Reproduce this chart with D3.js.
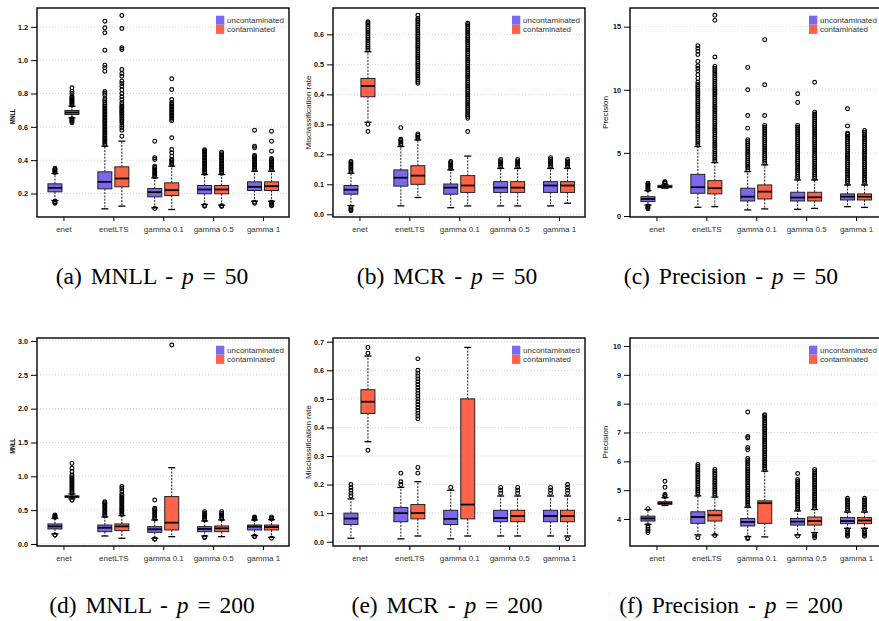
<!DOCTYPE html>
<html>
<head>
<meta charset="utf-8">
<script src="https://cdn.jsdelivr.net/npm/d3@7"></script>
<style>
  body { margin: 0; background: #fff; }
  svg { display: block; }
</style>
</head>
<body>
<svg id="fig" width="879" height="621"></svg>
<script>
// ---------------------------------------------------------------
// Methods compared and the two data settings
// ---------------------------------------------------------------
const methods = ["enet", "enetLTS", "gamma 0.1", "gamma 0.5", "gamma 1"];
const groupNames = ["uncontaminated", "contaminated"];
const groupColors = ["#7B68EE", "#FF6347"];

// Box summaries per method: [lower whisker, Q1, median, Q3, upper whisker]
// Outliers per method: individual points beyond the whiskers.

// ---- MNLL, p = 50 ----
const mnllTicks50 = [0.2, 0.4, 0.6, 0.8, 1.0, 1.2];
const mnll50CleanStats = [
  [0.158, 0.210, 0.234, 0.258, 0.320],
  [0.108, 0.228, 0.270, 0.330, 0.484],
  [0.114, 0.180, 0.208, 0.230, 0.294],
  [0.134, 0.198, 0.224, 0.248, 0.314],
  [0.154, 0.218, 0.240, 0.270, 0.334]
];
const mnll50CleanOut = [
  [0.326, 0.331, 0.337, 0.342, 0.347, 0.352, 0.153, 0.149, 0.145, 0.141],
  [0.492, 0.501, 0.509, 0.518, 0.527, 0.535, 0.544, 0.553, 0.561, 0.570, 0.579, 0.588, 0.597, 0.606,
   0.615, 0.624, 0.633, 0.642, 0.651, 0.660, 0.669, 0.678, 0.687, 0.696, 0.705, 0.714, 0.723, 0.733,
   0.744, 0.756, 0.768, 0.790, 0.801, 0.812, 0.934, 0.954, 0.970, 1.060, 1.164, 1.194, 1.234],
  [0.301, 0.309, 0.317, 0.325, 0.333, 0.341, 0.349, 0.357, 0.364, 0.404, 0.414, 0.514, 0.110],
  [0.322, 0.330, 0.339, 0.348, 0.357, 0.366, 0.375, 0.384, 0.393, 0.402, 0.411, 0.420, 0.429, 0.438,
   0.447, 0.455, 0.462, 0.128, 0.123],
  [0.342, 0.351, 0.360, 0.369, 0.378, 0.387, 0.396, 0.405, 0.414, 0.422, 0.428, 0.474, 0.484, 0.580,
   0.148, 0.142]
];
const mnll50ContStats = [
  [0.654, 0.674, 0.686, 0.698, 0.724],
  [0.124, 0.240, 0.290, 0.360, 0.514],
  [0.104, 0.188, 0.220, 0.264, 0.364],
  [0.130, 0.198, 0.224, 0.248, 0.314],
  [0.154, 0.218, 0.244, 0.270, 0.334]
];
const mnll50ContOut = [
  [0.730, 0.736, 0.742, 0.748, 0.754, 0.760, 0.766, 0.772, 0.778, 0.784, 0.800, 0.814, 0.834,
   0.648, 0.642, 0.636, 0.630, 0.625],
  [0.544, 0.580, 0.594, 0.610, 0.624, 0.636, 0.646, 0.656, 0.666, 0.676, 0.684, 0.692, 0.700, 0.708,
   0.716, 0.724, 0.733, 0.744, 0.764, 0.780, 0.800, 0.822, 0.844, 0.860, 0.874, 0.904, 0.920, 0.944,
   1.064, 1.074, 1.190, 1.268],
  [0.372, 0.380, 0.388, 0.396, 0.404, 0.424, 0.444, 0.464, 0.534, 0.636, 0.645, 0.654, 0.663, 0.672,
   0.681, 0.690, 0.699, 0.708, 0.717, 0.726, 0.735, 0.744, 0.764, 0.824, 0.888],
  [0.322, 0.330, 0.339, 0.348, 0.357, 0.366, 0.375, 0.384, 0.393, 0.402, 0.411, 0.420, 0.429, 0.438,
   0.448, 0.126, 0.122],
  [0.342, 0.351, 0.360, 0.369, 0.378, 0.387, 0.396, 0.404, 0.410, 0.454, 0.514, 0.574,
   0.148, 0.140, 0.132, 0.126]
];

// ---- Misclassification rate, p = 50 ----
const mcrTicks50 = [0.0, 0.1, 0.2, 0.3, 0.4, 0.5, 0.6];
const mcr50CleanStats = [
  [0.029, 0.067, 0.082, 0.096, 0.137],
  [0.028, 0.094, 0.122, 0.148, 0.226],
  [0.022, 0.067, 0.089, 0.101, 0.148],
  [0.028, 0.073, 0.089, 0.109, 0.153],
  [0.028, 0.073, 0.096, 0.109, 0.153]
];
const mcr50CleanOut = [
  [0.142, 0.147, 0.152, 0.157, 0.162, 0.167, 0.172, 0.176, 0.024, 0.019, 0.015, 0.012],
  [0.231, 0.236, 0.241, 0.246, 0.250, 0.289],
  [0.153, 0.158, 0.163, 0.168, 0.172, 0.176],
  [0.158, 0.163, 0.168, 0.173, 0.178, 0.183],
  [0.158, 0.163, 0.168, 0.173, 0.178, 0.183, 0.189]
];
const mcr50ContStats = [
  [0.307, 0.392, 0.428, 0.453, 0.542],
  [0.056, 0.100, 0.129, 0.162, 0.248],
  [0.028, 0.073, 0.096, 0.129, 0.194],
  [0.028, 0.073, 0.089, 0.109, 0.153],
  [0.037, 0.073, 0.096, 0.109, 0.153]
];
const mcr50ContOut = [
  [0.548, 0.554, 0.560, 0.566, 0.572, 0.578, 0.584, 0.590, 0.596, 0.602, 0.608, 0.614, 0.620, 0.626,
   0.632, 0.638, 0.642, 0.300, 0.276],
  [0.253, 0.258, 0.263, 0.268, 0.437, 0.443, 0.449, 0.455, 0.461, 0.467, 0.473, 0.479, 0.485, 0.491,
   0.497, 0.503, 0.509, 0.515, 0.521, 0.527, 0.533, 0.539, 0.545, 0.551, 0.557, 0.563, 0.569, 0.575,
   0.581, 0.587, 0.593, 0.599, 0.605, 0.611, 0.617, 0.623, 0.629, 0.635, 0.641, 0.647, 0.653, 0.664],
  [0.276, 0.320, 0.326, 0.332, 0.338, 0.344, 0.350, 0.356, 0.362, 0.368, 0.374, 0.380, 0.386, 0.392,
   0.398, 0.404, 0.410, 0.416, 0.422, 0.428, 0.434, 0.440, 0.446, 0.452, 0.458, 0.464, 0.470, 0.476,
   0.482, 0.488, 0.494, 0.500, 0.506, 0.512, 0.518, 0.524, 0.530, 0.536, 0.542, 0.548, 0.554, 0.560,
   0.566, 0.572, 0.578, 0.584, 0.590, 0.596, 0.602, 0.608, 0.614, 0.620, 0.626, 0.632, 0.637],
  [0.158, 0.163, 0.168, 0.173, 0.178, 0.183],
  [0.158, 0.163, 0.168, 0.173, 0.178, 0.183]
];

// ---- Precision, p = 50 ----
const precTicks50 = [0, 5, 10, 15];
const prec50CleanStats = [
  [0.87, 1.14, 1.35, 1.53, 2.00],
  [0.69, 1.80, 2.28, 3.30, 5.50],
  [0.48, 1.19, 1.53, 2.20, 3.52],
  [0.53, 1.19, 1.46, 1.88, 2.86],
  [0.74, 1.27, 1.53, 1.75, 2.46]
];
const prec50CleanOut = [
  [2.08, 2.17, 2.26, 2.35, 2.44, 2.53, 2.60, 0.80, 0.72, 0.64, 0.57],
  [5.62, 5.77, 5.92, 6.07, 6.22, 6.37, 6.52, 6.67, 6.82, 6.97, 7.12, 7.27, 7.42, 7.57, 7.72, 7.87,
   8.02, 8.17, 8.32, 8.47, 8.62, 8.77, 8.92, 9.07, 9.22, 9.37, 9.52, 9.67, 9.82, 9.97, 10.12, 10.27,
   10.42, 10.6, 10.9, 11.2, 11.5, 11.7, 11.9, 12.25, 12.8, 13.05, 13.3, 13.5],
  [3.65, 3.80, 3.95, 4.10, 4.25, 4.40, 4.55, 4.70, 4.85, 5.00, 5.15, 5.30, 5.45, 5.60, 5.75, 5.90,
   6.05, 6.96, 7.96, 10.0, 11.77],
  [2.98, 3.13, 3.28, 3.43, 3.58, 3.73, 3.88, 4.03, 4.18, 4.33, 4.48, 4.63, 4.78, 4.93, 5.08, 5.23,
   5.38, 5.53, 5.68, 5.83, 5.98, 6.13, 6.28, 6.43, 6.58, 6.73, 6.88, 7.03, 7.18, 9.00, 9.68],
  [2.58, 2.73, 2.88, 3.03, 3.18, 3.33, 3.48, 3.63, 3.78, 3.93, 4.08, 4.23, 4.38, 4.53, 4.68, 4.83,
   4.98, 5.13, 5.28, 5.43, 5.58, 5.73, 5.88, 6.03, 6.18, 6.33, 6.48, 6.56, 7.14, 8.49]
];
const prec50ContStats = [
  [2.20, 2.25, 2.33, 2.43, 2.50],
  [0.74, 1.75, 2.20, 2.80, 4.23],
  [0.56, 1.35, 1.93, 2.46, 4.05],
  [0.60, 1.19, 1.48, 1.88, 2.86],
  [0.68, 1.27, 1.53, 1.75, 2.46]
];
const prec50ContOut = [
  [2.56, 2.62, 2.68, 2.72],
  [4.35, 4.50, 4.65, 4.80, 4.95, 5.10, 5.25, 5.40, 5.55, 5.70, 5.85, 6.00, 6.15, 6.30, 6.45, 6.60,
   6.75, 6.90, 7.05, 7.20, 7.35, 7.50, 7.65, 7.80, 7.95, 8.10, 8.25, 8.40, 8.55, 8.70, 8.85, 9.00,
   9.15, 9.30, 9.45, 9.60, 9.75, 9.90, 10.05, 10.20, 10.35, 10.50, 10.65, 10.80, 10.95, 11.10,
   11.25, 11.40, 11.55, 11.70, 11.85, 12.6, 15.5, 15.9],
  [4.18, 4.33, 4.48, 4.63, 4.78, 4.93, 5.08, 5.23, 5.38, 5.53, 5.68, 5.83, 5.98, 6.13, 6.28, 6.43,
   6.58, 6.73, 6.88, 7.03, 7.18, 7.96, 10.4, 13.97],
  [2.98, 3.13, 3.28, 3.43, 3.58, 3.73, 3.88, 4.03, 4.18, 4.33, 4.48, 4.63, 4.78, 4.93, 5.08, 5.23,
   5.38, 5.53, 5.68, 5.83, 5.98, 6.13, 6.28, 6.43, 6.58, 6.73, 6.88, 7.03, 7.18, 7.33, 7.48, 7.63,
   7.78, 7.93, 8.08, 8.23, 10.6],
  [2.58, 2.73, 2.88, 3.03, 3.18, 3.33, 3.48, 3.63, 3.78, 3.93, 4.08, 4.23, 4.38, 4.53, 4.68, 4.83,
   4.98, 5.13, 5.28, 5.43, 5.58, 5.73, 5.88, 6.03, 6.18, 6.33, 6.48, 6.63, 6.78]
];

// ---- MNLL, p = 200 ----
const mnllTicks200 = [0.0, 0.5, 1.0, 1.5, 2.0, 2.5, 3.0];
const mnll200CleanStats = [
  [0.148, 0.222, 0.260, 0.296, 0.380],
  [0.118, 0.182, 0.240, 0.280, 0.400],
  [0.084, 0.172, 0.217, 0.256, 0.355],
  [0.118, 0.182, 0.222, 0.256, 0.340],
  [0.123, 0.207, 0.256, 0.280, 0.355]
];
const mnll200CleanOut = [
  [0.390, 0.400, 0.410, 0.420, 0.430, 0.133, 0.128],
  [0.415, 0.435, 0.455, 0.475, 0.495, 0.515, 0.535, 0.555, 0.575, 0.595, 0.610, 0.625],
  [0.370, 0.390, 0.410, 0.430, 0.450, 0.470, 0.490, 0.510, 0.527, 0.650, 0.074, 0.070],
  [0.355, 0.375, 0.395, 0.415, 0.435, 0.455, 0.478, 0.100, 0.094],
  [0.365, 0.380, 0.390, 0.400, 0.113, 0.108]
];
const mnll200ContStats = [
  [0.665, 0.690, 0.700, 0.710, 0.740],
  [0.084, 0.197, 0.260, 0.296, 0.420],
  [0.108, 0.207, 0.315, 0.700, 1.128],
  [0.108, 0.182, 0.231, 0.266, 0.355],
  [0.098, 0.207, 0.250, 0.280, 0.360]
];
const mnll200ContOut = [
  [0.755, 0.775, 0.795, 0.815, 0.835, 0.855, 0.875, 0.895, 0.915, 0.935, 0.955, 0.975, 0.995, 1.020,
   1.070, 1.120, 1.190, 0.655, 0.645],
  [0.435, 0.455, 0.475, 0.495, 0.515, 0.535, 0.555, 0.575, 0.595, 0.615, 0.635, 0.655, 0.675, 0.695,
   0.715, 0.740, 0.780, 0.820, 0.850],
  [2.940],
  [0.370, 0.390, 0.410, 0.430, 0.450, 0.478],
  [0.370, 0.380, 0.400, 0.084]
];

// ---- Misclassification rate, p = 200 ----
const mcrTicks200 = [0.0, 0.1, 0.2, 0.3, 0.4, 0.5, 0.6, 0.7];
const mcr200CleanStats = [
  [0.012, 0.060, 0.081, 0.100, 0.150],
  [0.010, 0.070, 0.100, 0.120, 0.190],
  [0.010, 0.060, 0.080, 0.110, 0.180],
  [0.020, 0.070, 0.083, 0.110, 0.160],
  [0.020, 0.070, 0.090, 0.110, 0.160]
];
const mcr200CleanOut = [
  [0.16, 0.17, 0.18, 0.19, 0.20],
  [0.20, 0.21, 0.24],
  [0.19],
  [0.17, 0.18, 0.19],
  [0.17, 0.18, 0.19]
];
const mcr200ContStats = [
  [0.350, 0.449, 0.490, 0.532, 0.650],
  [0.020, 0.080, 0.100, 0.130, 0.210],
  [0.020, 0.080, 0.130, 0.500, 0.680],
  [0.020, 0.070, 0.090, 0.110, 0.160],
  [0.020, 0.070, 0.090, 0.110, 0.160]
];
const mcr200ContOut = [
  [0.66, 0.68, 0.32],
  [0.24, 0.26, 0.43, 0.44, 0.45, 0.46, 0.47, 0.48, 0.49, 0.50, 0.51, 0.52, 0.53, 0.54, 0.55, 0.56,
   0.57, 0.58, 0.59, 0.60, 0.64],
  [],
  [0.17, 0.18, 0.19],
  [0.17, 0.18, 0.19, 0.20, 0.01]
];

// ---- Precision, p = 200 ----
const precTicks200 = [4, 5, 6, 7, 8, 9, 10];
const prec200CleanStats = [
  [3.82, 3.93, 4.02, 4.10, 4.33],
  [3.45, 3.85, 4.07, 4.25, 4.80],
  [3.39, 3.76, 3.90, 4.02, 4.41],
  [3.45, 3.79, 3.91, 4.02, 4.28],
  [3.68, 3.84, 3.93, 4.05, 4.24]
];
const prec200CleanOut = [
  [4.36, 3.77, 3.71, 3.65, 3.59, 3.53],
  [4.86, 4.92, 4.98, 5.04, 5.10, 5.16, 5.22, 5.28, 5.34, 5.40, 5.46, 5.52, 5.58, 5.64, 5.70, 5.76,
   5.82, 5.89, 3.35],
  [4.47, 4.53, 4.59, 4.65, 4.71, 4.77, 4.83, 4.89, 4.95, 5.01, 5.07, 5.13, 5.19, 5.25, 5.31, 5.37,
   5.43, 5.49, 5.55, 5.61, 5.67, 5.73, 5.79, 5.85, 5.91, 5.97, 6.03, 6.10, 6.40, 6.48, 6.81, 6.86,
   7.71, 3.35, 3.32],
  [4.34, 4.40, 4.46, 4.52, 4.58, 4.64, 4.70, 4.76, 4.82, 4.88, 4.94, 5.00, 5.06, 5.12, 5.18, 5.24,
   5.30, 5.37, 5.58, 3.41],
  [4.30, 4.36, 4.42, 4.48, 4.54, 4.60, 4.66, 4.72, 3.62, 3.56, 3.50, 3.44, 3.40]
];
const prec200ContStats = [
  [4.47, 4.51, 4.55, 4.60, 4.74],
  [3.45, 3.93, 4.13, 4.30, 4.76],
  [3.38, 3.85, 4.55, 4.63, 5.66],
  [3.53, 3.79, 3.93, 4.07, 4.33],
  [3.68, 3.84, 3.95, 4.05, 4.24]
];
const prec200ContOut = [
  [4.78, 4.82, 4.85, 5.10, 5.31],
  [4.82, 4.88, 4.94, 5.00, 5.06, 5.12, 5.18, 5.24, 5.30, 5.36, 5.42, 5.48, 5.54, 5.60, 5.66, 5.72,
   3.43],
  [5.72, 5.78, 5.84, 5.90, 5.96, 6.02, 6.08, 6.14, 6.20, 6.26, 6.32, 6.38, 6.44, 6.50, 6.56, 6.62,
   6.68, 6.74, 6.80, 6.86, 6.92, 6.98, 7.04, 7.10, 7.16, 7.22, 7.28, 7.34, 7.40, 7.46, 7.52, 7.58,
   7.62],
  [4.39, 4.45, 4.51, 4.57, 4.63, 4.69, 4.75, 4.81, 4.87, 4.93, 4.99, 5.05, 5.11, 5.17, 5.23, 5.29,
   5.35, 5.41, 5.47, 5.53, 5.59, 5.65, 5.72, 3.47, 3.41, 3.35],
  [4.30, 4.36, 4.42, 4.48, 4.54, 4.60, 4.66, 4.72, 3.62, 3.56, 3.50, 3.44, 3.40]
];

// Sub-figure captions
const captionLetters = ["a", "b", "c", "d", "e", "f"];
const captionMetrics = ["MNLL", "MCR", "Precision", "MNLL", "MCR", "Precision"];
const captionDims = [50, 50, 50, 200, 200, 200];

// ---------------------------------------------------------------
// Panel definitions (data + axis ranges)
// ---------------------------------------------------------------
const panels = [
  { yTitle: "MNLL", ticks: mnllTicks50, fmt: ".1f", domain: [0.059, 1.313],
    stats: [mnll50CleanStats, mnll50ContStats], out: [mnll50CleanOut, mnll50ContOut] },
  { yTitle: "Misclassification rate", ticks: mcrTicks50, fmt: ".1f", domain: [-0.009, 0.688],
    stats: [mcr50CleanStats, mcr50ContStats], out: [mcr50CleanOut, mcr50ContOut] },
  { yTitle: "Precision", ticks: precTicks50, fmt: "d", domain: [-0.08, 16.48],
    stats: [prec50CleanStats, prec50ContStats], out: [prec50CleanOut, prec50ContOut] },
  { yTitle: "MNLL", ticks: mnllTicks200, fmt: ".1f", domain: [-0.03, 3.044],
    stats: [mnll200CleanStats, mnll200ContStats], out: [mnll200CleanOut, mnll200ContOut] },
  { yTitle: "Misclassification rate", ticks: mcrTicks200, fmt: ".1f", domain: [-0.015, 0.713],
    stats: [mcr200CleanStats, mcr200ContStats], out: [mcr200CleanOut, mcr200ContOut] },
  { yTitle: "Precision", ticks: precTicks200, fmt: "d", domain: [3.065, 10.276],
    stats: [prec200CleanStats, prec200ContStats], out: [prec200CleanOut, prec200ContOut] }
];

// ---------------------------------------------------------------
// Layout
// ---------------------------------------------------------------
const colX0 = [37, 333, 630];
const plotW = 252;
const rowY0 = [8, 338];
const rowY1 = [217, 546];
const titleX = [15, 311, 608];
const captionX = [152, 447, 731];
const captionY = [284, 613];

const svg = d3.select("#fig");
const sans = "'Liberation Sans', Arial, Helvetica, sans-serif";

panels.forEach((pn, k) => {
  const col = k % 3, row = Math.floor(k / 3);
  const x0 = colX0[col], x1 = x0 + plotW;
  const y0 = rowY0[row], y1 = rowY1[row];

  const x = d3.scaleLinear().domain([0.47, 5.52]).range([x0, x1]);
  const y = d3.scaleLinear().domain(pn.domain).range([y1, y0]);

  const g = svg.append("g");

  // dotted horizontal grid
  g.append("g").selectAll("line").data(pn.ticks).join("line")
    .attr("x1", x0).attr("x2", x1)
    .attr("y1", d => y(d)).attr("y2", d => y(d))
    .attr("stroke", "#c8c8c8").attr("stroke-width", 0.8)
    .attr("stroke-dasharray", "1,2");

  // boxes for both data settings
  const off = 8.5, bw = 14;
  [0, 1].forEach(gi => {
    const outs = pn.out[gi];
    const bg = g.append("g").selectAll("g").data(pn.stats[gi]).join("g")
      .attr("transform", (d, i) => `translate(${x(i + 1) + (gi ? off : -off)},0)`);

    // dashed whiskers
    bg.append("line").attr("x1", 0).attr("x2", 0)
      .attr("y1", d => y(d[3])).attr("y2", d => y(d[4]))
      .attr("stroke", "#000").attr("stroke-width", 0.9).attr("stroke-dasharray", "2,1.3");
    bg.append("line").attr("x1", 0).attr("x2", 0)
      .attr("y1", d => y(d[1])).attr("y2", d => y(d[0]))
      .attr("stroke", "#000").attr("stroke-width", 0.9).attr("stroke-dasharray", "2,1.3");
    // staples
    [0, 4].forEach(j => {
      bg.append("line").attr("x1", -bw / 4).attr("x2", bw / 4)
        .attr("y1", d => y(d[j])).attr("y2", d => y(d[j]))
        .attr("stroke", "#000").attr("stroke-width", 1.3);
    });
    // box
    bg.append("rect")
      .attr("x", -bw / 2).attr("width", bw)
      .attr("y", d => y(d[3]))
      .attr("height", d => Math.max(0.5, y(d[1]) - y(d[3])))
      .attr("fill", groupColors[gi])
      .attr("stroke", "#222").attr("stroke-width", 1);
    // median
    bg.append("line").attr("x1", -bw / 2).attr("x2", bw / 2)
      .attr("y1", d => y(d[2])).attr("y2", d => y(d[2]))
      .attr("stroke", "#000").attr("stroke-width", 1.8);
    // outliers
    bg.selectAll("circle").data((d, i) => outs[i]).join("circle")
      .attr("cx", 0).attr("cy", v => y(v)).attr("r", 1.9)
      .attr("fill", "none").attr("stroke", "#000").attr("stroke-width", 1.15);
  });

  // y axis
  const yAxis = d3.axisLeft(y).tickValues(pn.ticks).tickFormat(d3.format(pn.fmt))
    .tickSize(6).tickPadding(3);
  const ya = g.append("g").attr("transform", `translate(${x0},0)`).call(yAxis);
  ya.select(".domain").remove();
  ya.selectAll(".tick line").attr("stroke", "#000").attr("stroke-width", 1);
  ya.selectAll(".tick text").attr("font-family", sans).attr("font-size", 7.2)
    .attr("font-weight", "bold").attr("fill", "#111");

  // x axis
  const xAxis = d3.axisBottom(x).tickValues([1, 2, 3, 4, 5])
    .tickFormat((d, i) => methods[i]).tickSize(4).tickPadding(5);
  const xa = g.append("g").attr("transform", `translate(0,${y1})`).call(xAxis);
  xa.select(".domain").remove();
  xa.selectAll(".tick line").attr("stroke", "#000").attr("stroke-width", 1);
  xa.selectAll(".tick text").attr("font-family", sans).attr("font-size", 8).attr("fill", "#333");

  // frame
  g.append("rect").attr("x", x0).attr("y", y0)
    .attr("width", x1 - x0).attr("height", y1 - y0)
    .attr("fill", "none").attr("stroke", "#000").attr("stroke-width", 1.4);

  // y-axis title
  const isMNLL = pn.yTitle === "MNLL";
  const cy = (y0 + y1) / 2 + (isMNLL ? 4 : 0);
  const t = g.append("text")
    .attr("transform", `translate(${titleX[col]},${cy}) rotate(-90)`)
    .attr("text-anchor", "middle")
    .attr("font-family", sans).attr("font-size", 8)
    .attr("font-weight", isMNLL ? "bold" : "normal")
    .attr("fill", "#111")
    .text(pn.yTitle);
  if (isMNLL) t.attr("textLength", 15).attr("lengthAdjust", "spacingAndGlyphs");

  // legend
  const lg = g.append("g").attr("transform", `translate(${x1 - 73},${y0 + 7.7})`);
  groupNames.forEach((name, gi) => {
    lg.append("rect").attr("x", 0).attr("y", gi * 9.2).attr("width", 8.3).attr("height", 9)
      .attr("fill", groupColors[gi]);
    lg.append("text").attr("x", 11).attr("y", gi * 9.6 + 7)
      .attr("font-family", sans).attr("font-size", 8).attr("fill", "#333")
      .text(name);
  });

  // caption
  const cap = svg.append("text")
    .attr("x", captionX[col]).attr("y", captionY[row])
    .attr("text-anchor", "middle")
    .attr("font-family", "'Liberation Serif', 'Times New Roman', serif")
    .attr("font-size", 23.5).attr("fill", "#000")
    .attr("word-spacing", 3);
  cap.append("tspan").text(`(${captionLetters[k]}) ${captionMetrics[k]} - `);
  cap.append("tspan").attr("font-style", "italic").text("p");
  cap.append("tspan").text(` = ${captionDims[k]}`);
});
</script>
</body>
</html>
